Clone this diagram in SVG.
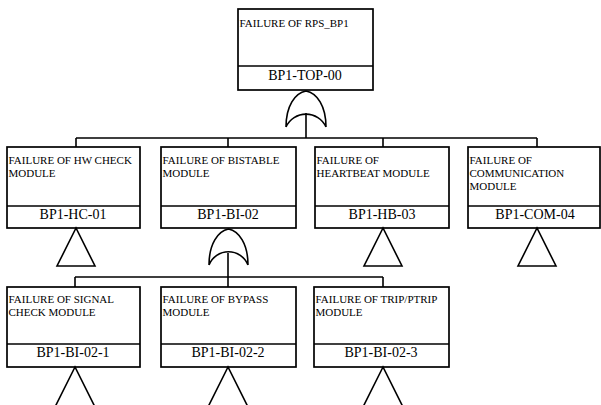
<svg xmlns="http://www.w3.org/2000/svg" width="601" height="405" viewBox="0 0 601 405">
<style>
.box{fill:#fff;stroke:#000;stroke-width:1.7}
.ln{fill:none;stroke:#000;stroke-width:1.6}
text{font-family:'Liberation Serif','Times New Roman','DejaVu Serif',serif;fill:#000}
.lbl{font-size:11px}
.id{font-size:14px;text-anchor:middle}
</style>
<rect width="601" height="405" fill="#fff"/>
<g id="connectors">
<path class="ln" d="M306,113 V138 M76,138 H537 M76,138 V147 M228,138 V147 M383,138 V147 M537,138 V147"/>
<path class="ln" d="M228,253 V287 M75,277 H383 M75,277 V287 M383,277 V287"/>
</g>
<g id="gate-top">
<path class="ln" d="M286,127 C286,106 295,93 306,91 C317,93 326,106 326,127 M286,127 A22,22 0 0 1 326,127"/>
</g>
<g id="gate-bi02">
<path class="ln" d="M209,265 C209,244 218,231 228.5,229 C239,231 248,244 248,265 M209,265 A21,21 0 0 1 248,265"/>
</g>
<g id="BP1-TOP-00">
<rect class="box" x="238" y="9" width="135" height="81"/>
<line class="ln" x1="238" y1="66" x2="373" y2="66"/>
<text class="lbl" x="239.5" y="27" font-family="Liberation Serif, serif">FAILURE OF RPS_BP1</text>
<text class="id" x="305" y="80" font-family="Liberation Serif, serif">BP1-TOP-00</text>
</g>
<g id="BP1-HC-01">
<rect class="box" x="7" y="147" width="133" height="81"/>
<line class="ln" x1="7" y1="206" x2="140" y2="206"/>
<text class="lbl" x="8.5" y="164">FAILURE OF HW CHECK</text>
<text class="lbl" x="8.5" y="177">MODULE</text>
<text class="id" x="73" y="219">BP1-HC-01</text>
<polygon class="ln" points="76,228 57,266 95,266"/>
</g>
<g id="BP1-BI-02">
<rect class="box" x="161" y="147" width="135" height="81"/>
<line class="ln" x1="161" y1="206" x2="296" y2="206"/>
<text class="lbl" x="162.5" y="164">FAILURE OF BISTABLE</text>
<text class="lbl" x="162.5" y="177">MODULE</text>
<text class="id" x="228" y="219">BP1-BI-02</text>
</g>
<g id="BP1-HB-03">
<rect class="box" x="315" y="147" width="134" height="81"/>
<line class="ln" x1="315" y1="206" x2="449" y2="206"/>
<text class="lbl" x="316.5" y="164">FAILURE OF</text>
<text class="lbl" x="316.5" y="177">HEARTBEAT MODULE</text>
<text class="id" x="382" y="219">BP1-HB-03</text>
<polygon class="ln" points="383,228 364,266 402,266"/>
</g>
<g id="BP1-COM-04">
<rect class="box" x="468" y="147" width="132" height="81"/>
<line class="ln" x1="468" y1="206" x2="600" y2="206"/>
<text class="lbl" x="469.5" y="164">FAILURE OF</text>
<text class="lbl" x="469.5" y="177">COMMUNICATION</text>
<text class="lbl" x="469.5" y="190">MODULE</text>
<text class="id" x="535" y="219">BP1-COM-04</text>
<polygon class="ln" points="537,228 518,266 556,266"/>
</g>
<g id="BP1-BI-02-1">
<rect class="box" x="7" y="287" width="133" height="80"/>
<line class="ln" x1="7" y1="344" x2="140" y2="344"/>
<text class="lbl" x="8.5" y="303">FAILURE OF SIGNAL</text>
<text class="lbl" x="8.5" y="316">CHECK MODULE</text>
<text class="id" x="73" y="357">BP1-BI-02-1</text>
<polygon class="ln" points="75,367 55,407 95,407"/>
</g>
<g id="BP1-BI-02-2">
<rect class="box" x="161" y="287" width="135" height="80"/>
<line class="ln" x1="161" y1="344" x2="296" y2="344"/>
<text class="lbl" x="162.5" y="303">FAILURE OF BYPASS</text>
<text class="lbl" x="162.5" y="316">MODULE</text>
<text class="id" x="228" y="357">BP1-BI-02-2</text>
<polygon class="ln" points="228,367 208,407 248,407"/>
</g>
<g id="BP1-BI-02-3">
<rect class="box" x="314" y="287" width="135" height="80"/>
<line class="ln" x1="314" y1="344" x2="449" y2="344"/>
<text class="lbl" x="315.5" y="303">FAILURE OF TRIP/PTRIP</text>
<text class="lbl" x="315.5" y="316">MODULE</text>
<text class="id" x="381" y="357">BP1-BI-02-3</text>
<polygon class="ln" points="383,367 363,407 403,407"/>
</g>
</svg>
